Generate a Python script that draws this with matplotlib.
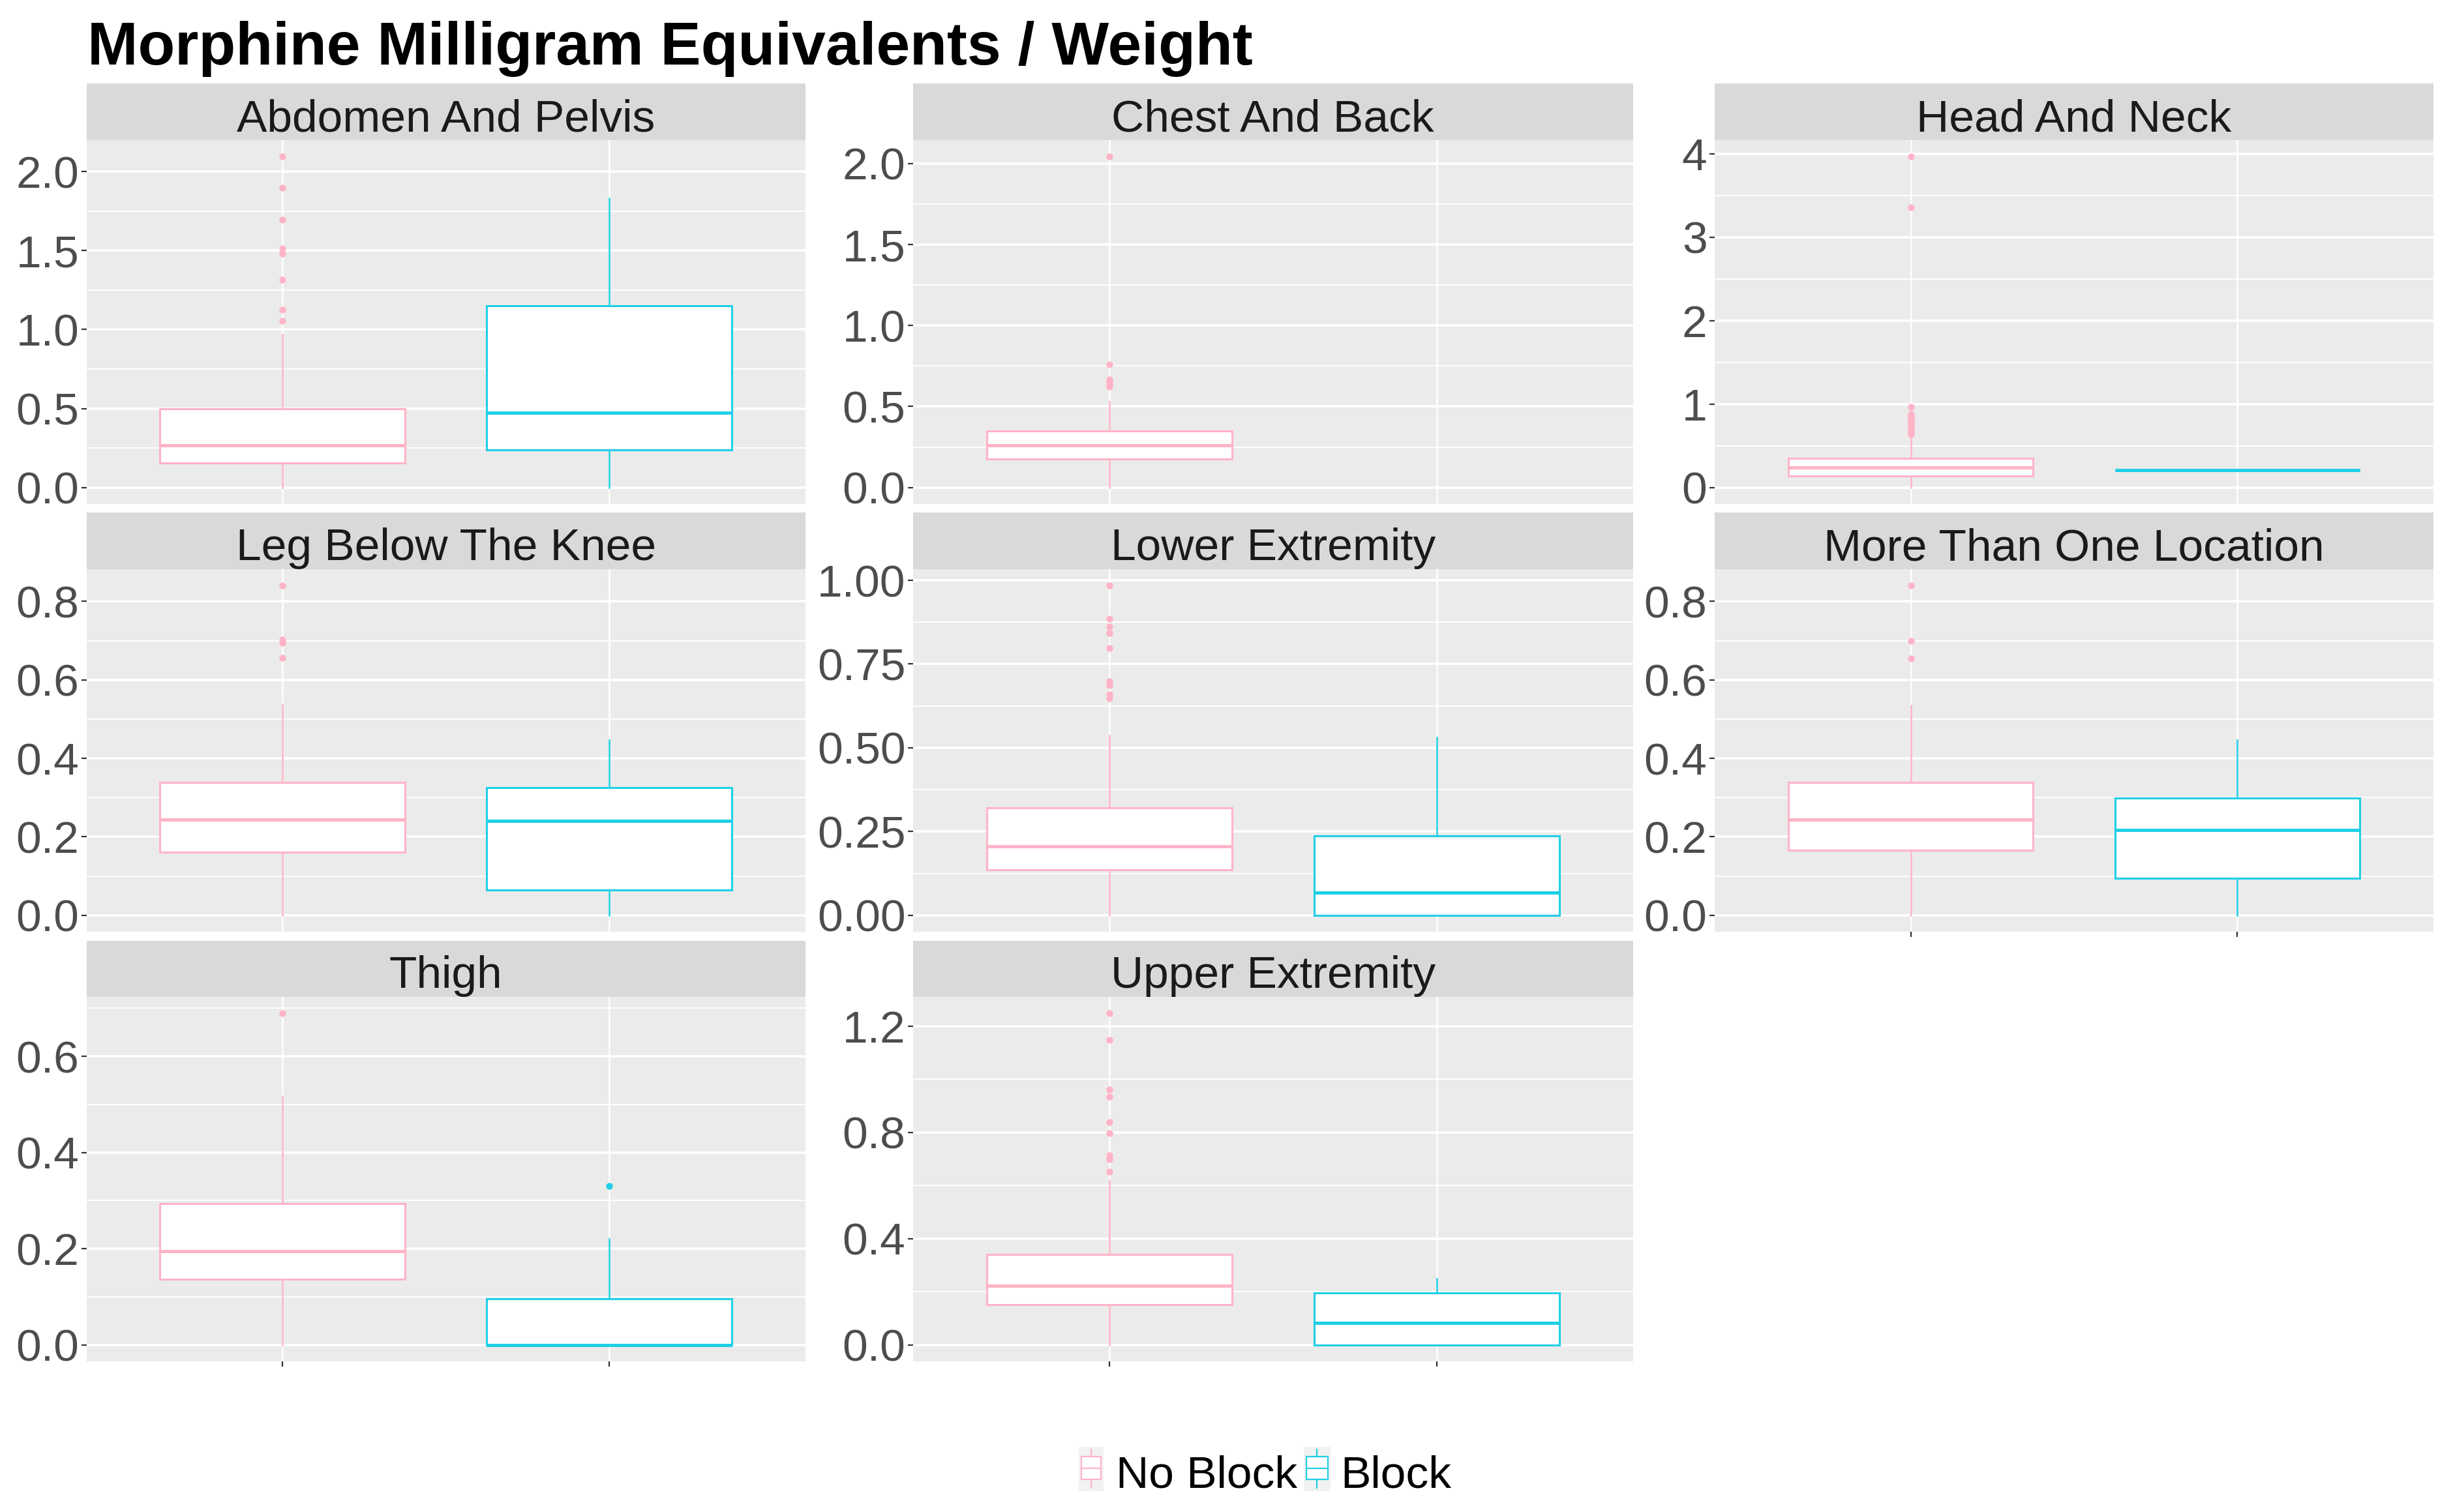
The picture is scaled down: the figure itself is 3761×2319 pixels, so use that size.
import matplotlib
matplotlib.use("Agg")
import matplotlib.pyplot as plt
from matplotlib.ticker import MultipleLocator, FormatStrFormatter
from matplotlib.patches import Rectangle

plt.rcParams['font.family'] = ['Liberation Sans', 'DejaVu Sans']

# ---------------- data ----------------
title = "Morphine Milligram Equivalents / Weight"
groups = ["No Block", "Block"]
panels = ["Abdomen And Pelvis", "Chest And Back", "Head And Neck",
          "Leg Below The Knee", "Lower Extremity", "More Than One Location",
          "Thigh", "Upper Extremity"]

# No Block summary statistics
nb_lo  = [0.0, 0.0, 0.0, 0.0, 0.0, 0.0, 0.0, 0.0]
nb_q1  = [0.154, 0.175, 0.139, 0.160, 0.135, 0.166, 0.137, 0.151]
nb_med = [0.265, 0.259, 0.238, 0.244, 0.205, 0.244, 0.195, 0.222]
nb_q3  = [0.500, 0.347, 0.350, 0.338, 0.320, 0.338, 0.294, 0.339]
nb_hi  = [0.970, 0.531, 0.620, 0.538, 0.537, 0.535, 0.516, 0.621]
nb_out = [
    [2.094, 1.897, 1.697, 1.512, 1.481, 1.315, 1.125, 1.056],
    [2.042, 0.758, 0.665, 0.650, 0.635, 0.622],
    [3.966, 3.360, 0.963, 0.880, 0.860, 0.840, 0.820, 0.800, 0.780,
     0.760, 0.740, 0.720, 0.700, 0.680, 0.660, 0.640],
    [0.840, 0.702, 0.694, 0.656],
    [0.984, 0.885, 0.862, 0.843, 0.798, 0.698, 0.686, 0.659, 0.647],
    [0.840, 0.699, 0.655],
    [0.689],
    [1.247, 1.148, 0.960, 0.935, 0.837, 0.797, 0.714, 0.698, 0.651],
]

# Block summary statistics (None = no data)
b_lo  = [0.0, None, 0.207, 0.0, 0.0, 0.0, 0.0, 0.0]
b_q1  = [0.238, None, 0.207, 0.064, 0.0, 0.095, 0.0, 0.0]
b_med = [0.475, None, 0.207, 0.241, 0.068, 0.217, 0.0, 0.083]
b_q3  = [1.150, None, 0.207, 0.325, 0.237, 0.298, 0.096, 0.195]
b_hi  = [1.833, None, 0.207, 0.447, 0.531, 0.447, 0.220, 0.249]
b_out = [[], [], [], [], [], [], [0.330], []]

# y axis breaks per panel
y_step = [0.5, 0.5, 1.0, 0.2, 0.25, 0.2, 0.2, 0.4]
y_fmt  = ['%.1f', '%.1f', '%.0f', '%.1f', '%.2f', '%.1f', '%.1f', '%.1f']

# ---------------- style ----------------
W, H = 3762, 2319
DPI = 100
PINK = '#FFB3C7'
CYAN = '#1FCFE6'
colors = [PINK, CYAN]
PANEL_BG = '#EBEBEB'
STRIP_BG = '#D9D9D9'

fig = plt.figure(figsize=(W / DPI, H / DPI), dpi=DPI)
fig.patch.set_facecolor('white')

def px_axes(x0, y0, x1, y1):
    return fig.add_axes([x0 / W, 1 - y1 / H, (x1 - x0) / W, (y1 - y0) / H])

col_x = [(132.6, 1235.0), (1400.0, 2503.6), (2629.0, 3731.0)]
row_y = [(128.0, 215.0, 773.0), (786.0, 873.0, 1429.0), (1443.0, 1529.0, 2088.0)]
bottom_panels = {6, 7, 5}

fig.text(134 / W, 1 - 99 / H, title, fontsize=67, fontweight='bold',
         ha='left', va='baseline', color='black')

for i, name in enumerate(panels):
    r, c = divmod(i, 3)
    x0, x1 = col_x[c]
    s0, s1, p1 = row_y[r]

    # strip
    sax = px_axes(x0, s0, x1, s1)
    sax.set_facecolor(STRIP_BG)
    sax.set_xticks([]); sax.set_yticks([])
    for sp in sax.spines.values():
        sp.set_visible(False)
    sax.text(0.5, 0.16, name, ha='center', va='baseline', fontsize=50,
             color='#1A1A1A', transform=sax.transAxes)

    # panel
    ax = px_axes(x0, s1, x1, p1)
    ax.set_facecolor(PANEL_BG)
    for sp in ax.spines.values():
        sp.set_visible(False)
    ax.set_axisbelow(True)

    stats_nb = dict(whislo=nb_lo[i], q1=nb_q1[i], med=nb_med[i], q3=nb_q3[i],
                    whishi=nb_hi[i], fliers=nb_out[i])
    sets = [(stats_nb, 1, PINK)]
    if b_med[i] is not None:
        stats_b = dict(whislo=b_lo[i], q1=b_q1[i], med=b_med[i], q3=b_q3[i],
                       whishi=b_hi[i], fliers=b_out[i])
        sets.append((stats_b, 2, CYAN))

    for st, pos, col in sets:
        ax.bxp([st], positions=[pos], widths=0.75, patch_artist=True,
               showcaps=False, manage_ticks=False,
               boxprops=dict(facecolor='white', edgecolor=col, linewidth=2.2),
               medianprops=dict(color=col, linewidth=3.6, solid_capstyle='butt'),
               whiskerprops=dict(color=col, linewidth=1.8),
               flierprops=dict(marker='o', markerfacecolor=col,
                               markeredgecolor='none', markersize=7.5))

    allv = [nb_hi[i]] + nb_out[i] + ([b_hi[i]] + b_out[i] if b_hi[i] is not None else [])
    ymax = max(allv)
    ymin = 0.0
    rng = ymax - ymin
    ax.set_ylim(ymin - 0.05 * rng, ymax + 0.05 * rng)
    ax.set_xlim(0.4, 2.6)

    ax.yaxis.set_major_locator(MultipleLocator(y_step[i]))
    ax.yaxis.set_minor_locator(MultipleLocator(y_step[i] / 2))
    ax.yaxis.set_major_formatter(FormatStrFormatter(y_fmt[i]))
    ax.set_xticks([1, 2])
    ax.set_xticklabels([])
    ax.grid(which='major', axis='y', color='white', linewidth=2.6)
    ax.grid(which='minor', axis='y', color='white', linewidth=1.4)
    ax.grid(which='major', axis='x', color='white', linewidth=1.8)
    ax.tick_params(axis='y', which='major', length=5.8, width=1.6, color='#333333',
                   labelsize=50, labelcolor='#4D4D4D', pad=2.5)
    ax.tick_params(axis='y', which='minor', length=0)
    if i in bottom_panels:
        ax.tick_params(axis='x', length=5.8, width=1.6, color='#333333')
    else:
        ax.tick_params(axis='x', length=0)

# ---------------- legend ----------------
key_boxes = [(1654, 2219, 1692, 2287), (1999, 2219, 2040, 2287)]
text_x = [1711, 2055]
glyph = dict(whislo=0.08, q1=0.27, med=0.52, q3=0.78, whishi=0.94, fliers=[])
for g, (kx0, ky0, kx1, ky1), tx, col in zip(groups, key_boxes, text_x, colors):
    kax = px_axes(kx0, ky0, kx1, ky1)
    kax.set_facecolor('#F2F2F2')
    for sp in kax.spines.values():
        sp.set_visible(False)
    kax.bxp([glyph], positions=[0.5], widths=0.8, patch_artist=True,
            showcaps=False, manage_ticks=False,
            boxprops=dict(facecolor='white', edgecolor=col, linewidth=1.6),
            medianprops=dict(color=col, linewidth=1.6),
            whiskerprops=dict(color=col, linewidth=1.6))
    kax.set_xlim(0, 1); kax.set_ylim(0, 1)
    kax.set_xticks([]); kax.set_yticks([])
    fig.text(tx / W, 1 - 2281 / H, g, fontsize=50, ha='left', va='baseline',
             color='black')

fig.savefig('out.png', dpi=DPI, facecolor='white')
